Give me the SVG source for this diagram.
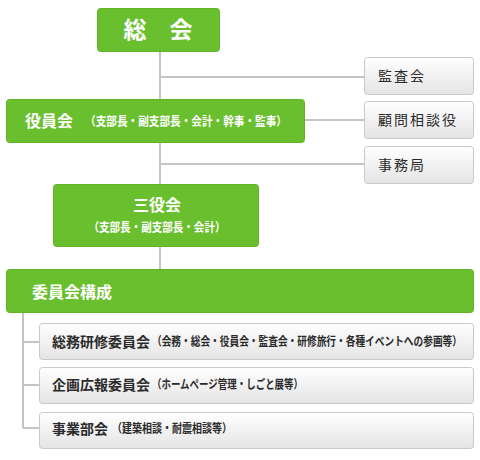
<svg xmlns="http://www.w3.org/2000/svg" width="480" height="460" viewBox="0 0 480 460">
<defs>
<linearGradient id="gray" x1="0" y1="0" x2="0" y2="1">
<stop offset="0" stop-color="#ffffff"/>
<stop offset="1" stop-color="#e4e4e4"/>
</linearGradient>
<style>
.green{fill:#6abf2f;stroke:#62b22a;stroke-width:1}
.grey{fill:url(#gray);stroke:#c9c9c9;stroke-width:1}
.conn{stroke:#c4c4c4;stroke-width:2;fill:none}
text{font-family:"Noto Sans CJK JP","Noto Sans",sans-serif}
.wt{fill:#ffffff;font-weight:bold}
.dk{fill:#2a2a2a}
.bd{font-weight:bold}
</style>
</defs>
<rect width="480" height="460" fill="#ffffff"/>
<g id="connectors">
<path class="conn" d="M160 52 V99 M160 143 V184 M160 247 V269"/>
<path class="conn" d="M160 77 H364 M305 120 H364 M160 164 H364"/>
<path class="conn" d="M23 313 V428 M23 342 H40 M23 385 H40 M23 428 H40"/>
</g>
<g id="soukai">
<rect class="green" x="97.5" y="8.5" width="122" height="43" rx="3"/>
<text class="wt" x="158" y="38" font-size="23" text-anchor="middle">総　会</text>
</g>
<g id="yakuinkai">
<rect class="green" x="6.5" y="99.5" width="298" height="43" rx="3"/>
<text class="wt" x="25" y="127" font-size="16">役員会</text>
<text class="wt" x="85" y="126" font-size="12" textLength="202" lengthAdjust="spacingAndGlyphs">（支部長・副支部長・会計・幹事・監事）</text>
</g>
<g id="kansakai">
<rect class="grey" x="364.5" y="57.5" width="109" height="37" rx="3"/>
<text class="dk" x="378" y="81" font-size="14" letter-spacing="2">監査会</text>
</g>
<g id="komon">
<rect class="grey" x="364.5" y="101.5" width="109" height="37" rx="3"/>
<text class="dk" x="378" y="125" font-size="14" letter-spacing="2">顧問相談役</text>
</g>
<g id="jimukyoku">
<rect class="grey" x="364.5" y="146.5" width="109" height="37" rx="3"/>
<text class="dk" x="378" y="170" font-size="14" letter-spacing="2">事務局</text>
</g>
<g id="sanyakukai">
<rect class="green" x="53.5" y="184.5" width="205" height="62" rx="3"/>
<text class="wt" x="157" y="211" font-size="16" text-anchor="middle">三役会</text>
<text class="wt" x="157" y="232" font-size="12" text-anchor="middle" textLength="137" lengthAdjust="spacingAndGlyphs">（支部長・副支部長・会計）</text>
</g>
<g id="iinkai">
<rect class="green" x="6.5" y="269.5" width="467" height="43" rx="3"/>
<text class="wt" x="32" y="298" font-size="16">委員会構成</text>
</g>
<g id="soumu">
<rect class="grey" x="39.5" y="323.5" width="434" height="36" rx="3"/>
<text class="dk bd" x="52" y="347" font-size="14">総務研修委員会</text>
<text class="dk bd" x="152" y="346" font-size="12" textLength="310" lengthAdjust="spacingAndGlyphs">（会務・総会・役員会・監査会・研修旅行・各種イベントへの参画等）</text>
</g>
<g id="kikaku">
<rect class="grey" x="39.5" y="367.5" width="434" height="36" rx="3"/>
<text class="dk bd" x="52" y="390" font-size="14">企画広報委員会</text>
<text class="dk bd" x="152" y="389" font-size="12" textLength="151" lengthAdjust="spacingAndGlyphs">（ホームページ管理・しごと展等）</text>
</g>
<g id="jigyou">
<rect class="grey" x="39.5" y="412.5" width="434" height="36" rx="3"/>
<text class="dk bd" x="52" y="434" font-size="14">事業部会</text>
<text class="dk bd" x="112" y="433" font-size="12" textLength="120" lengthAdjust="spacingAndGlyphs">（建築相談・耐震相談等）</text>
</g>
</svg>
